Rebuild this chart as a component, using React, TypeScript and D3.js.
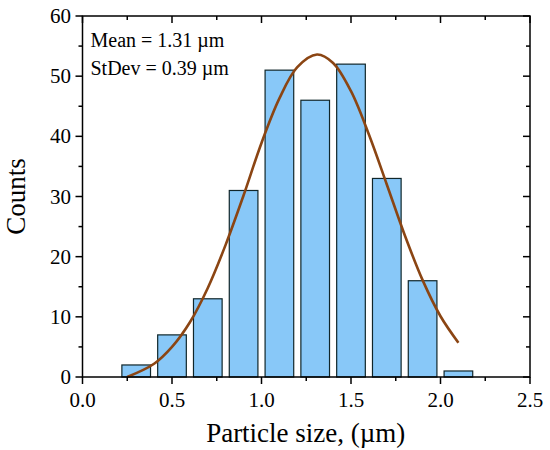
import React from "react";
import * as d3 from "d3";

const binCenters = [0.3, 0.5, 0.7, 0.9, 1.1, 1.3, 1.5, 1.7, 1.9, 2.1];
const counts = [2, 7, 13, 31, 51, 46, 52, 33, 16, 1];
const binWidth = 0.2;
const barFrac = 0.8;

// points
const fitX = [0.25, 0.4, 0.5, 0.6, 0.7, 0.8, 0.9, 1.0, 1.1, 1.2, 1.31, 1.4, 1.5, 1.6, 1.7, 1.8, 1.9, 2.0, 2.1];
const fitY = [0, 2.2, 5.0, 9.1, 14.8, 22.0, 30.2, 38.9, 46.3, 51.5, 53.6, 52.2, 47.5, 40.3, 32.0, 23.6, 16.1, 10.1, 5.7];

const xMajor = [0, 0.5, 1.0, 1.5, 2.0, 2.5];
const xMinor = [0.25, 0.75, 1.25, 1.75, 2.25];
const yMajor = [0, 10, 20, 30, 40, 50, 60];
const yMinor = [5, 15, 25, 35, 45, 55];

const annotations = ["Mean = 1.31 \u00b5m", "StDev = 0.39 \u00b5m"];
const xTitle = "Particle size, (\u00b5m)";
const yTitle = "Counts";

export default function App() {
  const W = 550, H = 450;
  const left = 82.5, right = 530, top = 16, bottom = 377;
  const x = d3.scaleLinear().domain([0, 2.5]).range([left, right]);
  const y = d3.scaleLinear().domain([0, 60]).range([bottom, top]);
  const font = "'Liberation Serif', 'Times New Roman', serif";
  const line = d3
    .line<number>()
    .x((_, i) => x(fitX[i]))
    .y((d) => y(d))
    .curve(d3.curveCatmullRom.alpha(0.5));
  const bw = x(binWidth * barFrac) - x(0);
  const fmt = d3.format(".1f");
  const axisColor = "#000";
  const sw = 1.5;

  return (
    <svg width={W} height={H} style={{ position: "absolute", left: 0, top: 0, background: "#fff" }}>
      <rect x={0} y={0} width={W} height={H} fill="#fff" />
      {/* bars */}
      {binCenters.map((c, i) => (
        <rect
          key={i}
          x={x(c) - bw / 2}
          y={y(counts[i])}
          width={bw}
          height={y(0) - y(counts[i])}
          fill="#88C8F8"
          stroke="#10262a"
          strokeWidth={1.2}
        />
      ))}
      {/* fit curve */}
      <path d={line(fitY) || ""} fill="none" stroke="#8B4513" strokeWidth={2.6} />
      {/* frame */}
      <rect x={left} y={top} width={right - left} height={bottom - top} fill="none" stroke={axisColor} strokeWidth={sw} />
      {/* bottom ticks (out) & top ticks (in) */}
      {xMajor.map((v) => (
        <g key={"xM" + v}>
          <line x1={x(v)} x2={x(v)} y1={bottom} y2={bottom + 7} stroke={axisColor} strokeWidth={sw} />
          <line x1={x(v)} x2={x(v)} y1={top} y2={top + 7} stroke={axisColor} strokeWidth={sw} />
          <text x={x(v)} y={406.5} textAnchor="middle" fontFamily={font} fontSize={21}>
            {fmt(v)}
          </text>
        </g>
      ))}
      {xMinor.map((v) => (
        <g key={"xm" + v}>
          <line x1={x(v)} x2={x(v)} y1={bottom} y2={bottom + 4} stroke={axisColor} strokeWidth={sw} />
          <line x1={x(v)} x2={x(v)} y1={top} y2={top + 4} stroke={axisColor} strokeWidth={sw} />
        </g>
      ))}
      {/* left ticks (out) & right ticks (in) */}
      {yMajor.map((v) => (
        <g key={"yM" + v}>
          <line x1={left - 7} x2={left} y1={y(v)} y2={y(v)} stroke={axisColor} strokeWidth={sw} />
          <line x1={right - 7} x2={right} y1={y(v)} y2={y(v)} stroke={axisColor} strokeWidth={sw} />
          <text x={71} y={y(v)} dy="0.34em" textAnchor="end" fontFamily={font} fontSize={21}>
            {v}
          </text>
        </g>
      ))}
      {yMinor.map((v) => (
        <g key={"ym" + v}>
          <line x1={left - 4} x2={left} y1={y(v)} y2={y(v)} stroke={axisColor} strokeWidth={sw} />
          <line x1={right - 4} x2={right} y1={y(v)} y2={y(v)} stroke={axisColor} strokeWidth={sw} />
        </g>
      ))}
      {/* annotations */}
      {annotations.map((t, i) => (
        <text key={t} x={90.5} y={46.7 + i * 28.3} fontFamily={font} fontSize={20}>
          {t}
        </text>
      ))}
      {/* titles */}
      <text x={(left + right) / 2 - 0.5} y={442} textAnchor="middle" fontFamily={font} fontSize={27}>
        {xTitle}
      </text>
      <text
        transform={`translate(25,${(top + bottom) / 2}) rotate(-90)`}
        textAnchor="middle"
        fontFamily={font}
        fontSize={27}
      >
        {yTitle}
      </text>
    </svg>
  );
}
